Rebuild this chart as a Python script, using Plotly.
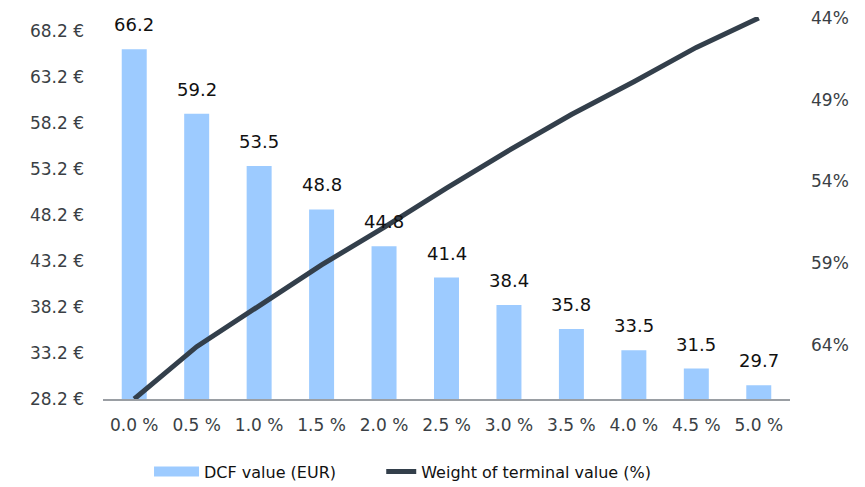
import plotly.graph_objects as go

categories = ["0.0 %", "0.5 %", "1.0 %", "1.5 %", "2.0 %", "2.5 %", "3.0 %", "3.5 %", "4.0 %", "4.5 %", "5.0 %"]
dcf_values = [66.2, 59.2, 53.5, 48.8, 44.8, 41.4, 38.4, 35.8, 33.5, 31.5, 29.7]
tv_weight = [67.3, 64.1, 61.6, 59.1, 56.8, 54.4, 52.1, 49.9, 47.9, 45.8, 44.0]
left_ticks = [28.2, 33.2, 38.2, 43.2, 48.2, 53.2, 58.2, 63.2, 68.2]
right_ticks = [44, 49, 54, 59, 64]

FONT = "'DejaVu Sans', sans-serif"
BAR_C = "#9DCBFF"
LINE_C = "#333F4B"
TXT_C = "#3A3F45"

fig = go.Figure()
fig.add_trace(go.Bar(
    x=categories, y=dcf_values, name="DCF value (EUR)",
    marker=dict(color=BAR_C, line=dict(width=0)),
    yaxis="y", cliponaxis=False, showlegend=False,
))
# legend entry for the bars (wide patch like the reference)
fig.add_trace(go.Scatter(
    x=[None], y=[None], name="DCF value (EUR)", mode="lines",
    line=dict(color=BAR_C, width=12), legend="legend",
))
fig.add_trace(go.Scatter(
    x=categories, y=tv_weight, name="Weight of terminal value (%)",
    mode="lines", line=dict(color=LINE_C, width=5),
    yaxis="y2", cliponaxis=False, legend="legend2",
))

for c, v in zip(categories, dcf_values):
    fig.add_annotation(x=c, y=v, yref="y", text=f"{v:.1f}", showarrow=False,
                       yanchor="bottom", yshift=12,
                       font=dict(family=FONT, size=18, color="#111111"))

leg_common = dict(orientation="h", y=-0.19, yanchor="middle", xanchor="left",
                  font=dict(family=FONT, size=16, color="#111111"),
                  bgcolor="rgba(0,0,0,0)")

# page body adds an 8px offset, so the figure is sized/margined to compensate
fig.update_layout(
    width=857, height=479,
    margin=dict(l=95, r=75, t=9, b=88, autoexpand=False),
    paper_bgcolor="white", plot_bgcolor="white",
    bargap=0.6,
    font=dict(family=FONT, size=18, color=TXT_C),
    showlegend=True,
    legend=dict(x=0.067, itemwidth=45, **leg_common),
    legend2=dict(x=0.405, itemwidth=30, **leg_common),
    xaxis=dict(showgrid=False, showline=True, linecolor="#9A9EA3", linewidth=2,
               ticks="", ticklabelstandoff=10,
               tickfont=dict(size=17, color=TXT_C), zeroline=False),
    yaxis=dict(range=[28.2, 69.7], tickvals=left_ticks,
               ticktext=[f"{t:.1f} €" for t in left_ticks],
               showgrid=False, zeroline=False, showline=False, ticks="",
               ticklabelstandoff=18, ticklabeloverflow="allow",
               tickfont=dict(size=17, color=TXT_C)),
    yaxis2=dict(range=[67.3, 43.94], overlaying="y", side="right",
                tickvals=right_ticks, ticktext=[f"{t}%" for t in right_ticks],
                showgrid=False, zeroline=False, showline=False, ticks="",
                ticklabelstandoff=20, ticklabeloverflow="allow",
                tickfont=dict(size=17, color=TXT_C)),
)

fig.write_html("out.html")
